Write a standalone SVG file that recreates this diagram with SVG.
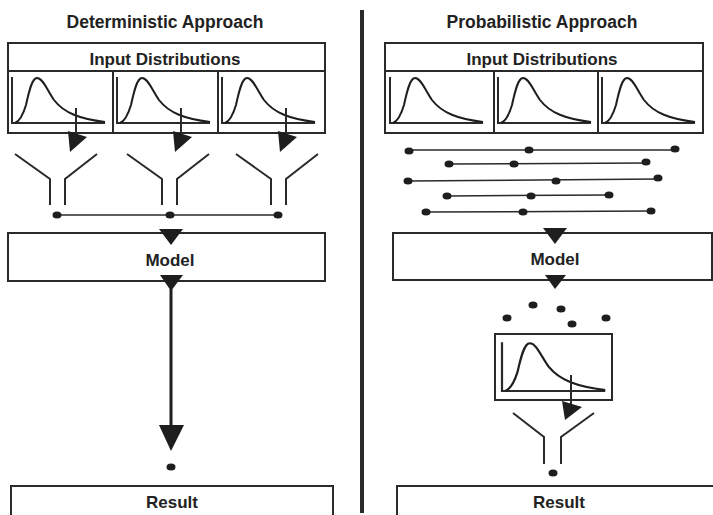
<svg xmlns="http://www.w3.org/2000/svg" width="713" height="515" viewBox="0 0 713 515">
<style>
text{font-family:"Liberation Sans",Arial,sans-serif;font-weight:bold;fill:#222;text-anchor:middle}
.t{font-size:17.5px}
.l{font-size:17px}
.box{fill:#fff;stroke:#2a2a2a;stroke-width:2}
.ln{fill:none;stroke:#2a2a2a;stroke-width:2}
.thin{fill:none;stroke:#2a2a2a;stroke-width:1.5}
.crv{fill:none;stroke:#1e1e1e;stroke-width:2;stroke-linejoin:round}
.tri{fill:#1e1e1e}
.dot{fill:#1e1e1e}
</style>
<defs>
<g id="dist">
<path class="ln" d="M0,-46 V0 H93"/>
<path class="crv" d="M3,0 C8,-2 11,-8 14,-18 C17,-32 20,-45 25,-45 C31,-45 35,-33 42,-23 C52,-10 68,-4 93,-1"/>
</g>
<g id="funnel">
<path class="ln" d="M0,0 L35,25 V51"/>
<path class="ln" d="M82,0 L50,25 V51"/>
</g>
<ellipse id="d" class="dot" rx="4.5" ry="3.5"/>
</defs>
<rect width="713" height="515" fill="#fff"/>

<g id="divider"><line x1="362" y1="10" x2="362" y2="513" stroke="#2a2a2a" stroke-width="4"/></g>

<g id="det-title"><text class="t" x="165" y="28">Deterministic Approach</text></g>
<g id="prob-title"><text class="t" x="542" y="28">Probabilistic Approach</text></g>

<g id="det-inputs">
<rect class="box" x="8" y="43" width="317" height="90"/>
<line class="ln" x1="8" y1="71" x2="325" y2="71"/>
<line class="ln" x1="113" y1="71" x2="113" y2="133"/>
<line class="ln" x1="218" y1="71" x2="218" y2="133"/>
<text class="l" x="165" y="65">Input Distributions</text>
<use href="#dist" x="12" y="123"/>
<use href="#dist" x="117" y="123"/>
<use href="#dist" x="222" y="123"/>
</g>

<g id="det-pointers">
<line class="ln" x1="76" y1="108" x2="76" y2="134"/>
<polygon class="tri" points="68,131 87,137 70,152"/>
<line class="ln" x1="181" y1="108" x2="181" y2="134"/>
<polygon class="tri" points="173,131 192,137 175,152"/>
<line class="ln" x1="286" y1="108" x2="286" y2="134"/>
<polygon class="tri" points="278,131 297,137 280,152"/>
</g>

<g id="det-funnels">
<use href="#funnel" x="15" y="154"/>
<use href="#funnel" x="127" y="154"/>
<use href="#funnel" x="236" y="154"/>
</g>

<g id="det-samples">
<line class="thin" x1="57" y1="215" x2="278" y2="215"/>
<use href="#d" x="57" y="215"/>
<use href="#d" x="170" y="215"/>
<use href="#d" x="278" y="215"/>
</g>

<g id="det-model">
<rect class="box" x="8" y="233" width="317" height="48"/>
<text class="l" x="170" y="266">Model</text>
</g>

<g id="det-connectors">
<polygon class="tri" points="159,229 183,229 171,245"/>
<polygon class="tri" points="160,275 183,275 171,291"/>
<line x1="171" y1="289" x2="171" y2="428" stroke="#1e1e1e" stroke-width="3"/>
<polygon class="tri" points="159,425 184,425 171,451"/>
<use href="#d" x="171" y="467"/>
</g>

<g id="det-result">
<rect class="box" x="11" y="486" width="322" height="40"/>
<text class="l" x="172" y="508">Result</text>
</g>

<g id="prob-inputs">
<rect class="box" x="385" y="43" width="318" height="90"/>
<line class="ln" x1="385" y1="71" x2="703" y2="71"/>
<line class="ln" x1="494" y1="71" x2="494" y2="133"/>
<line class="ln" x1="598" y1="71" x2="598" y2="133"/>
<text class="l" x="542" y="65">Input Distributions</text>
<use href="#dist" x="390" y="123"/>
<use href="#dist" x="498" y="123"/>
<use href="#dist" x="602" y="123"/>
</g>

<g id="prob-samples">
<line class="thin" x1="409" y1="150" x2="675" y2="150"/>
<use href="#d" x="409" y="151"/><use href="#d" x="529" y="150"/><use href="#d" x="675" y="149"/>
<line class="thin" x1="449" y1="164" x2="646" y2="163"/>
<use href="#d" x="449" y="164"/><use href="#d" x="514" y="164"/><use href="#d" x="646" y="162"/>
<line class="thin" x1="408" y1="181" x2="658" y2="179"/>
<use href="#d" x="408" y="181"/><use href="#d" x="556" y="181"/><use href="#d" x="658" y="178"/>
<line class="thin" x1="447" y1="196" x2="609" y2="195"/>
<use href="#d" x="447" y="196"/><use href="#d" x="531" y="196"/><use href="#d" x="609" y="195"/>
<line class="thin" x1="426" y1="212" x2="651" y2="211"/>
<use href="#d" x="426" y="212"/><use href="#d" x="523" y="212"/><use href="#d" x="651" y="211"/>
</g>

<g id="prob-model">
<rect class="box" x="393" y="233" width="319" height="47"/>
<text class="l" x="555" y="265">Model</text>
</g>

<g id="prob-connectors">
<polygon class="tri" points="543,228 567,228 555,244"/>
<polygon class="tri" points="545,275 566,275 555,289"/>
<use href="#d" x="507" y="318"/>
<use href="#d" x="533" y="305"/>
<use href="#d" x="561" y="309"/>
<use href="#d" x="572" y="324"/>
<use href="#d" x="606" y="318"/>
</g>

<g id="prob-output-dist">
<rect class="box" x="495" y="334" width="117" height="66"/>
<g transform="translate(502,391) scale(1.11,1.06)">
<path class="ln" d="M0,-46 V0 H93" stroke-width="1.85"/>
<path class="crv" d="M3,0 C8,-2 11,-8 14,-18 C17,-32 20,-45 25,-45 C31,-45 35,-33 42,-23 C52,-10 68,-4 93,-1" stroke-width="1.85"/>
</g>
<line class="ln" x1="571" y1="375" x2="571" y2="405"/>
<polygon class="tri" points="562,401 582,407 565,420"/>
</g>

<g id="prob-funnel">
<path class="ln" d="M513,413 L544,437 V464"/>
<path class="ln" d="M594,413 L561,437 V464"/>
<use href="#d" x="553" y="473"/>
</g>

<g id="prob-result">
<rect class="box" x="397" y="486" width="330" height="40"/>
<text class="l" x="559" y="508">Result</text>
</g>
</svg>
